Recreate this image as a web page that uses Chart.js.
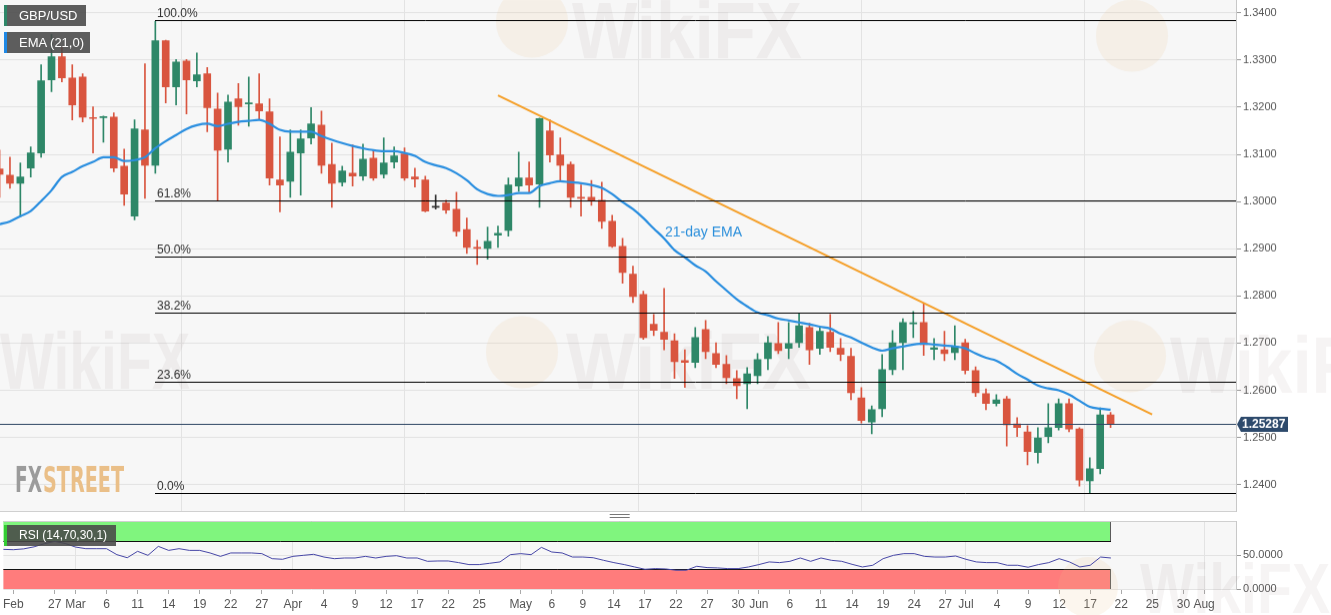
<!DOCTYPE html>
<html><head><meta charset="utf-8">
<script src="https://cdn.jsdelivr.net/npm/chart.js@4.4.1/dist/chart.umd.min.js"></script>
<style>
html,body{margin:0;padding:0;background:#fff;width:1331px;height:615px;overflow:hidden;font-family:Arial,"Liberation Sans",sans-serif}
#main{position:absolute;left:0;top:0;width:1331px;height:511px}
#rsi{position:absolute;left:0;top:511px;width:1331px;height:104px}
.tag{position:absolute;left:4px;height:21px;line-height:21px;background:rgba(72,72,72,0.88);color:#fff;font-size:13px;padding:0 0 0 12px;border-left:3px solid;box-sizing:border-box}
</style></head>
<body>
<div id="rsi"><canvas id="c2"></canvas></div>
<div id="main"><canvas id="c1"></canvas></div>
<div class="tag" style="top:5px;width:82px;border-color:#2e8768">GBP/USD</div>
<div class="tag" style="top:32px;width:86px;border-color:#1e88e5">EMA (21,0)</div>
<div class="tag" style="top:525px;width:112px;border-color:#33cc33;font-size:12px">RSI (14,70,30,1)</div>
<script>
// ---- Data (GBP/USD daily, Feb 20 – Jul 19, trading-day index) ----
const opens  = [1.3069,1.3056,1.3039,1.3071,1.3103,1.3258,1.3307,1.3262,1.3264,1.3178,1.3178,1.3179,1.3075,1.2969,1.3152,1.3077,1.3341,1.3243,1.3298,1.3256,
1.3271,1.3196,1.3111,1.3218,1.3207,1.3207,1.3190,1.3046,1.3043,1.3103,1.3135,1.3162,1.3079,1.3041,1.3060,1.3054,1.3092,1.3058,1.3084,1.3101,
1.3052,1.3046,1.2988,1.2997,1.2984,1.2941,1.2903,1.2901,1.2929,1.2939,1.3033,1.3050,1.3037,1.3150,1.3099,1.3079,1.3009,1.3009,1.3003,1.2958,
1.2905,1.2846,1.2803,1.2740,1.2723,1.2705,1.2663,1.2659,1.2729,1.2678,1.2655,1.2625,1.2614,1.2631,1.2667,1.2699,1.2689,1.2701,1.2733,1.2689,
1.2723,1.2689,1.2672,1.2584,1.2533,1.2561,1.2644,1.2701,1.2741,1.2744,1.2687,1.2686,1.2680,1.2701,1.2642,1.2593,1.2572,1.2582,1.2529,1.2512,
1.2468,1.2502,1.2521,1.2572,1.2518,1.2408,1.2434,1.2548];
const highs  = [1.3109,1.3094,1.3082,1.3116,1.3290,1.3354,1.3326,1.3290,1.3271,1.3201,1.3181,1.3188,1.3111,1.3173,1.3292,1.3382,1.3342,1.3301,1.3301,1.3315,
1.3284,1.3230,1.3226,1.3250,1.3264,1.3271,1.3218,1.3137,1.3152,1.3152,1.3199,1.3192,1.3124,1.3075,1.3120,1.3122,1.3109,1.3135,1.3116,1.3114,
1.3071,1.3054,1.3014,1.3003,1.3020,1.2965,1.2918,1.2946,1.2948,1.3050,1.3105,1.3084,1.3177,1.3173,1.3135,1.3084,1.3035,1.3045,1.3041,1.2971,
1.2922,1.2863,1.2810,1.2761,1.2816,1.2720,1.2686,1.2733,1.2748,1.2701,1.2674,1.2642,1.2648,1.2678,1.2714,1.2744,1.2744,1.2763,1.2742,1.2733,
1.2761,1.2710,1.2689,1.2606,1.2567,1.2676,1.2727,1.2752,1.2767,1.2784,1.2710,1.2725,1.2737,1.2708,1.2650,1.2603,1.2591,1.2587,1.2542,1.2525,
1.2521,1.2572,1.2582,1.2582,1.2521,1.2457,1.2563,1.2553];
const lows   = [1.3009,1.3028,1.2967,1.3052,1.3094,1.3233,1.3254,1.3173,1.3169,1.3103,1.3126,1.3063,1.2992,1.2961,1.3007,1.3060,1.3209,1.3205,1.3186,1.3243,
1.3148,1.3003,1.3084,1.3162,1.3160,1.3173,1.3035,1.2978,1.3009,1.3014,1.3122,1.3060,1.2988,1.3033,1.3033,1.3045,1.3045,1.3050,1.3071,1.3045,
1.3031,1.2978,1.2984,1.2975,1.2927,1.2890,1.2867,1.2878,1.2903,1.2927,1.3022,1.3020,1.2988,1.3084,1.3045,1.2988,1.2969,1.2992,1.2943,1.2903,
1.2827,1.2786,1.2708,1.2716,1.2686,1.2625,1.2606,1.2648,1.2667,1.2648,1.2614,1.2582,1.2561,1.2614,1.2644,1.2678,1.2667,1.2691,1.2655,1.2676,
1.2682,1.2663,1.2580,1.2531,1.2508,1.2544,1.2633,1.2644,1.2712,1.2674,1.2665,1.2663,1.2665,1.2635,1.2587,1.2559,1.2567,1.2482,1.2502,1.2442,
1.2446,1.2489,1.2516,1.2512,1.2397,1.2382,1.2423,1.2521];
const closes = [1.3058,1.3039,1.3052,1.3103,1.3256,1.3307,1.3262,1.3205,1.3179,1.3176,1.3180,1.3071,1.3016,1.3154,1.3077,1.3341,1.3243,1.3296,1.3258,1.3269,
1.3199,1.3109,1.3211,1.3201,1.3209,1.3192,1.3050,1.3035,1.3105,1.3133,1.3165,1.3077,1.3039,1.3065,1.3054,1.3090,1.3050,1.3082,1.3097,1.3050,
1.3048,1.2980,1.2988,1.2982,1.2937,1.2903,1.2901,1.2916,1.2933,1.3035,1.3050,1.3035,1.3176,1.3099,1.3077,1.3009,1.3007,1.3003,1.2958,1.2905,
1.2850,1.2799,1.2712,1.2727,1.2708,1.2661,1.2659,1.2712,1.2682,1.2655,1.2627,1.2610,1.2635,1.2665,1.2701,1.2684,1.2699,1.2737,1.2686,1.2725,
1.2691,1.2676,1.2595,1.2536,1.2559,1.2644,1.2701,1.2744,1.2743,1.2697,1.2690,1.2678,1.2693,1.2642,1.2595,1.2572,1.2580,1.2527,1.2521,1.2470,
1.2499,1.2521,1.2572,1.2518,1.2410,1.2434,1.2548,1.25287];
const ema21  = [1.2952,1.2958,1.2969,1.2980,1.3001,1.3024,1.3052,1.3063,1.3075,1.3084,1.3094,1.3094,1.3086,1.3088,1.3094,1.3113,1.3128,1.3141,1.3154,1.3162,
1.3165,1.3160,1.3165,1.3169,1.3171,1.3173,1.3165,1.3152,1.3148,1.3148,1.3148,1.3139,1.3131,1.3124,1.3118,1.3113,1.3109,1.3107,1.3107,1.3103,
1.3097,1.3084,1.3077,1.3071,1.3060,1.3045,1.3026,1.3016,1.3012,1.3014,1.3018,1.3018,1.3033,1.3039,1.3043,1.3041,1.3039,1.3035,1.3029,1.3016,
1.2999,1.2984,1.2965,1.2943,1.2922,1.2897,1.2882,1.2865,1.2852,1.2831,1.2812,1.2793,1.2778,1.2765,1.2759,1.2752,1.2748,1.2744,1.2740,1.2735,
1.2731,1.2720,1.2712,1.2701,1.2691,1.2684,1.2689,1.2693,1.2697,1.2699,1.2697,1.2695,1.2693,1.2689,1.2678,1.2669,1.2663,1.2650,1.2635,1.2623,
1.2610,1.2604,1.2600,1.2591,1.2578,1.2565,1.2561,1.2559];
const rsi    = [58.3,57.8,59,62,66.6,70,67,61.7,59.3,59.3,59.3,50.5,46,55.4,49.5,62.7,56.8,59.3,56.8,56.8,
53,48,53,53,53,52,44.6,43.7,48,49.5,51,47,44.6,45.6,45.6,48,45.6,48,49,45.6,
45.6,40.7,41.2,41.2,38.8,35.9,35.9,37.8,39.8,50.5,52,50.5,61.2,54.4,53,47,47,46,42.2,38.8,
35.9,32.4,29,30,29.5,27.6,27.6,33.4,31.5,31,30,30,32.4,35.9,39.8,38.8,40.7,45.6,40.7,45.6,
42.2,40.7,36.3,32.4,34.9,44.6,49.5,52,52,48,47,47,48.5,43.7,39.8,38.8,38.8,34.9,34.9,32,
35.9,38.8,44.6,39.8,32.4,34.9,47,45.6];
const tickLabels = ['Feb','27','Mar','6','11','14','19','22','27','Apr','4','9','12','17','22','25','May','6','9','14','17','22','27','30','Jun','6','11','14','19','24','27','Jul','4','9','12','17','22','25','30','Aug'];
const tickDays   = [1,5,7,10,13,16,19,22,25,28,31,34,37,40,43,46,50,53,56,59,62,65,68,71,73,76,79,82,85,88,91,93,96,99,102,105,108,111,114,116];
const monthDays  = [7,28,50,73,93,116];
const priceTicks = [1.24,1.25,1.26,1.27,1.28,1.29,1.30,1.31,1.32,1.33,1.34];
const fibLevels  = [1.3384,1.3002,1.2884,1.2765,1.2619,1.2383];
const fibLabels  = ['100.0%','61.8%','50.0%','38.2%','23.6%','0.0%'];
const fibStartDay = 15;
const trendStart = {day:48, price:1.3225};
const trendEnd   = {day:111, price:1.2549};
const lastPrice = 1.25287;

// ---- Layout / style ----
const X_MIN = 0.04, X_MAX = 119.08;
const MAIN_H = 511;
const GREEN = '#2e8768', RED = '#d9553f', DOJI = '#333333';
const days = opens.map((_, i) => i);
const candleColor = i => closes[i] > opens[i] ? GREEN : (closes[i] < opens[i] ? RED : DOJI);
Chart.defaults.font.family = 'Arial, "Liberation Sans", sans-serif';

const bgPlugin = {
  id:'bg',
  beforeDraw(chart){
    const {ctx, chartArea:a} = chart;
    ctx.save(); ctx.fillStyle = '#f7f7f7';
    ctx.fillRect(a.left, a.top, a.right-a.left, a.bottom-a.top);
    ctx.restore();
  }
};

function drawWatermark(ctx, cx, cy, r, tx, ty, tw, size){
  ctx.save();
  if (r) { ctx.fillStyle = 'rgba(235,195,140,0.15)'; ctx.beginPath(); ctx.arc(cx, cy, r, 0, Math.PI*2); ctx.fill(); }
  if (tw) { ctx.fillStyle = 'rgba(150,130,130,0.09)'; ctx.font = 'bold '+size+'px Arial'; ctx.textBaseline='alphabetic'; ctx.fillText('WikiFX', tx, ty, tw); }
  ctx.restore();
}

function hLine(ctx, x1, x2, py, color){
  const yy = Math.round(py) + 0.5;
  ctx.strokeStyle = color; ctx.lineWidth = 1;
  ctx.beginPath(); ctx.moveTo(x1, yy); ctx.lineTo(x2, yy); ctx.stroke();
}

const mainOverlay = {
  id:'mainOverlay',
  beforeDatasetsDraw(chart){
    const ctx = chart.ctx;
    ctx.save();
    ctx.translate(0, chart.chartArea.top);
    drawWatermark(ctx, 0,0,0, 0, 388, 190, 80);
    drawWatermark(ctx, 522, 352, 36, 566, 388, 245, 80);
    drawWatermark(ctx, 1130, 356, 36, 1170, 392, 230, 80);
    drawWatermark(ctx, 532, 22, 36, 572, 58, 230, 80);
    drawWatermark(ctx, 1132, 36, 36, 0,0,0,0);
    ctx.restore();
  },
  afterDatasetsDraw(chart){
    const {ctx, scales:{x, y}, chartArea:a} = chart;
    ctx.save();
    // current price line
    hLine(ctx, a.left, a.right, y.getPixelForValue(lastPrice), '#2d4563');
    // Fibonacci levels
    const fx = Math.round(x.getPixelForValue(fibStartDay));
    fibLevels.forEach(l => hLine(ctx, fx, a.right, y.getPixelForValue(l), '#000'));
    ctx.fillStyle = '#333'; ctx.font = '12px Arial'; ctx.textBaseline = 'alphabetic';
    fibLevels.forEach((l, i) => {
      ctx.fillText(fibLabels[i], fx + 2, Math.round(y.getPixelForValue(l)) - 3);
    });
    ctx.translate(0, a.top);
    ctx.fillStyle = '#2b8fdb'; ctx.font = '14px Arial';
    ctx.fillText('21-day EMA', 665, 236);
    ctx.font = 'bold 36px "Liberation Sans Narrow", "DejaVu Sans Condensed", Arial';
    ctx.fillStyle = '#9b9b9b'; ctx.fillText('FX', 15, 491, 27);
    ctx.fillStyle = '#eabf88'; ctx.fillText('STREET', 43, 491, 81);
    ctx.restore();
    ctx.save();
    hLine(ctx, a.left, a.right, a.bottom - 1, '#d0d0d0');
    ctx.restore();
  },
  afterDraw(chart){
    const {ctx, scales:{y}, chartArea:a} = chart;
    const py = Math.round(y.getPixelForValue(lastPrice)) + 0.5;
    ctx.save();
    ctx.fillStyle = '#2d4a6c';
    ctx.beginPath();
    ctx.moveTo(a.right+1, py); ctx.lineTo(a.right+5, py-7.5); ctx.lineTo(a.right+52, py-7.5);
    ctx.lineTo(a.right+52, py+7.5); ctx.lineTo(a.right+5, py+7.5); ctx.closePath(); ctx.fill();
    ctx.fillStyle = '#fff'; ctx.font = 'bold 12px Arial'; ctx.textBaseline = 'middle';
    ctx.fillText(lastPrice.toFixed(5), a.right+6, py+0.5);
    ctx.restore();
  }
};

const mainChart = new Chart(document.getElementById('c1'), {
  type:'bar',
  data:{datasets:[
    { type:'line', data: days.map((d,i)=>({x:d,y:ema21[i]})), borderColor:'#2b8fe0', borderWidth:2.2, pointRadius:0, tension:0.4, cubicInterpolationMode:'monotone', order:1 },
    { type:'line', data:[{x:trendStart.day,y:trendStart.price},{x:trendEnd.day,y:trendEnd.price}], borderColor:'#f5a02a', borderWidth:2, pointRadius:0, order:0 },
    { data: days.map((d,i)=>({x:d,y:[lows[i],highs[i]]})), backgroundColor: c=>candleColor(c.dataIndex), barThickness:1, grouped:false, order:10 },
    { data: days.map((d,i)=>({x:d,y:[opens[i],closes[i]]})), backgroundColor: c=>candleColor(c.dataIndex), barThickness:7, minBarLength:1, grouped:false, order:9 }
  ]},
  options:{
    responsive:true, maintainAspectRatio:false, animation:false, events:[],
    layout:{padding:0, autoPadding:false},
    plugins:{legend:{display:false}, tooltip:{enabled:false}},
    scales:{
      x:{type:'linear', min:X_MIN, max:X_MAX, offset:false,
         afterBuildTicks: ax => { ax.ticks = monthDays.map(v=>({value:v})); },
         ticks:{display:false}, grid:{color:'#e3e3e3', drawTicks:false}, border:{display:false}},
      y:{position:'right', min:1.2343, max:1.3428,
         afterBuildTicks: ax => { ax.ticks = priceTicks.map(v=>({value:v})); },
         afterFit: ax => { ax.width = 95; },
         ticks:{callback:v=>Number(v).toFixed(4), color:'#555', font:{size:11}, padding:2},
         grid:{color:'#e3e3e3', tickLength:5, tickColor:'#999'},
         border:{color:'#c8c8c8'}}
    }
  },
  plugins:[bgPlugin, mainOverlay]
});
// make the plot area span exactly y = 0 .. MAIN_H on the page
(function(){
  const a = mainChart.chartArea;
  const topPad = a.top, botPad = mainChart.height - a.bottom;
  const box = document.getElementById('main');
  box.style.top = (-topPad) + 'px';
  box.style.height = (MAIN_H + topPad + botPad) + 'px';
  mainChart.resize();
})();

const rsiOverlay = {
  id:'rsiOverlay',
  beforeDatasetsDraw(chart){
    const {ctx, scales:{x, y}, chartArea:a} = chart;
    const xr = Math.round(x.getPixelForValue(days[days.length-1]));
    const y100 = Math.round(y.getPixelForValue(100)), y70 = Math.round(y.getPixelForValue(70));
    const y30 = Math.round(y.getPixelForValue(30)), y0 = Math.round(y.getPixelForValue(0));
    ctx.save();
    ctx.fillStyle = '#80f57e'; ctx.fillRect(a.left, y100, xr-a.left, y70-y100);
    ctx.fillStyle = '#ff7c7c'; ctx.fillRect(a.left, y30, xr-a.left, y0-y30);
    hLine(ctx, a.left, xr, y70, '#111');
    hLine(ctx, a.left, xr, y30, '#111');
    ctx.strokeStyle = '#5a5a5a';
    ctx.beginPath(); ctx.moveTo(xr-0.5, y100); ctx.lineTo(xr-0.5, y70); ctx.stroke();
    ctx.beginPath(); ctx.moveTo(xr-0.5, y30); ctx.lineTo(xr-0.5, y0); ctx.stroke();
    drawWatermark(ctx, 1088, 76, 30, 1140, 102, 190, 70);
    ctx.restore();
  },
  afterDraw(chart){
    const {ctx, chartArea:a} = chart;
    const cx = (a.left + a.right)/2;
    ctx.save();
    ctx.strokeStyle = '#777'; ctx.lineWidth = 1;
    [3.5, 6.5].forEach(py => { ctx.beginPath(); ctx.moveTo(cx-10, py); ctx.lineTo(cx+10, py); ctx.stroke(); });
    hLine(ctx, a.left, a.right, a.top, '#d0d0d0');
    ctx.restore();
  }
};

new Chart(document.getElementById('c2'), {
  type:'line',
  data:{datasets:[{ data: days.map((d,i)=>({x:d,y:rsi[i]})), borderColor:'#4646a6', borderWidth:1, pointRadius:0, tension:0 }]},
  options:{
    responsive:true, maintainAspectRatio:false, animation:false, events:[],
    layout:{padding:{top:10,left:0,right:0,bottom:0}, autoPadding:false},
    plugins:{legend:{display:false}, tooltip:{enabled:false}},
    scales:{
      x:{type:'linear', min:X_MIN, max:X_MAX, offset:false,
         afterBuildTicks: ax => { ax.ticks = tickDays.map(v=>({value:v})); },
         afterFit: ax => { ax.height = 26; },
         ticks:{autoSkip:false, maxRotation:0, color:'#555', font:{size:12}, padding:3, callback:(v,i)=>tickLabels[i]},
         grid:{color: c => (c.tick && monthDays.includes(c.tick.value)) ? '#e3e3e3' : 'rgba(0,0,0,0)', tickColor:'#aaa', tickLength:5},
         border:{display:false}},
      y:{position:'right', min:0, max:100,
         afterBuildTicks: ax => { ax.ticks = [{value:0},{value:50}]; },
         afterFit: ax => { ax.width = 95; },
         ticks:{callback:v=>Number(v).toFixed(4), color:'#555', font:{size:11}, padding:2},
         grid:{color:'#e3e3e3', tickLength:5, tickColor:'#999'},
         border:{color:'#c8c8c8'}}
    }
  },
  plugins:[bgPlugin, rsiOverlay]
});
</script>
</body></html>
